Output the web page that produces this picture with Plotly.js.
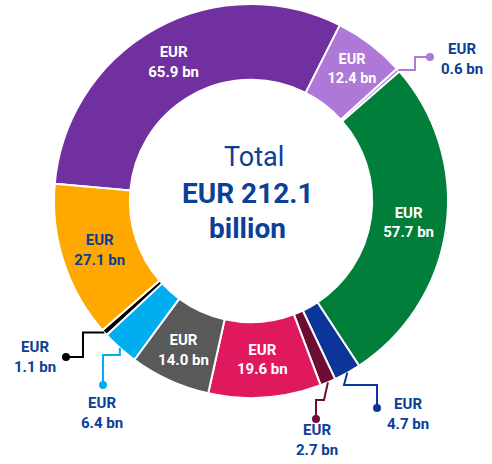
<!DOCTYPE html>
<html>
<head>
<meta charset="utf-8">
<script src="https://cdn.plot.ly/plotly-3.0.1.min.js"></script>
<style>
  html, body { margin: 0; padding: 0; background: #fff; }
  #chart { width: 492px; height: 464px; }
</style>
</head>
<body>
<div id="chart"></div>
<script>
// values in EUR bn, clockwise starting at the purple slice
var values = [65.9, 12.4, 0.6, 57.7, 4.7, 2.7, 19.6, 14.0, 6.4, 1.1, 27.1];
var colors = ['#70309f', '#ad78d6', '#ad78d6', '#017f3a', '#0c3599', '#6e0d33',
              '#e0195f', '#595959', '#00aeef', '#000000', '#ffa800'];
var insideLabel = [true, true, false, true, false, false, true, true, false, false, true];
var totalText = 'EUR 212.1';

var W = 492, H = 464;
var cx = 251, cy = 201, R = 197;
var rotation = -85;
var blue = '#0a4096';

var total = 0;
for (var i = 0; i < values.length; i++) total += values[i];

var texts = [];
var textColors = [];
for (i = 0; i < values.length; i++) {
    texts.push(insideLabel[i] ? 'EUR<br>' + values[i].toFixed(1) + ' bn' : '');
    textColors.push(colors[i] == '#ffa800' ? '#0c3d91' : '#ffffff');
}

// mid angle of a slice (degrees clockwise from 12 o'clock)
function midAngle(k) {
    var a = rotation;
    for (var j = 0; j < k; j++) a += values[j] / total * 360;
    return a + values[k] / total * 180;
}
function edgePoint(k) {
    var a = midAngle(k) * Math.PI / 180;
    return [cx + R * Math.sin(a), cy - R * Math.cos(a)];
}
function px(x) { return x / W; }
function py(y) { return 1 - y / H; }

// callouts for the thin slices: slice index, elbow points (px) after the edge point, dot, label centre
var callouts = [
    {k: 2, path: [[415, 'e'], [415, 57]], dot: [430, 57], lx: 462, ly: 59},
    {k: 4, path: [[344, 385], [377, 385]], dot: [377, 408], lx: 408, ly: 414},
    {k: 5, path: [[324, 400], [316, 400]], dot: [316, 419], lx: 317, ly: 440},
    {k: 8, path: [['e', 355], [103, 355]], dot: [103, 385], lx: 102, ly: 413},
    {k: 9, path: [[83, 'e'], [83, 357]], dot: [66, 357], lx: 35, ly: 357}
];

var shapes = [];
var annotations = [];
callouts.forEach(function (c) {
    var e = edgePoint(c.k);
    var pts = [e];
    c.path.forEach(function (p) {
        pts.push([p[0] == 'e' ? e[0] : p[0], p[1] == 'e' ? e[1] : p[1]]);
    });
    pts.push(c.dot);
    var d = '';
    pts.forEach(function (p, n) {
        d += (n == 0 ? 'M' : 'L') + px(p[0]) + ',' + py(p[1]);
    });
    shapes.push({type: 'path', xref: 'paper', yref: 'paper', path: d,
        line: {color: colors[c.k], width: 2}});
    var r = 4;
    shapes.push({type: 'circle', xref: 'paper', yref: 'paper',
        x0: px(c.dot[0] - r), x1: px(c.dot[0] + r), y0: py(c.dot[1] + r), y1: py(c.dot[1] - r),
        fillcolor: colors[c.k], line: {width: 0}});
    annotations.push({xref: 'paper', yref: 'paper', x: px(c.lx), y: py(c.ly),
        xanchor: 'center', yanchor: 'middle',
        text: '<b>EUR<br>' + values[c.k].toFixed(1) + ' bn</b>', showarrow: false,
        font: {family: 'Roboto', size: 15, color: blue}, align: 'center'});
});

annotations.push({xref: 'paper', yref: 'paper', x: px(254), y: py(157), showarrow: false,
    xanchor: 'center', yanchor: 'middle',
    text: 'Total', font: {family: 'Roboto', size: 27, color: blue}});
annotations.push({xref: 'paper', yref: 'paper', x: px(247), y: py(193), showarrow: false,
    xanchor: 'center', yanchor: 'middle',
    text: '<b>' + totalText + '</b>', font: {family: 'Roboto', size: 28, color: blue}});
annotations.push({xref: 'paper', yref: 'paper', x: px(247), y: py(228), showarrow: false,
    xanchor: 'center', yanchor: 'middle',
    text: '<b>billion</b>', font: {family: 'Roboto', size: 28, color: blue}});

var trace = {
    type: 'pie',
    values: values,
    sort: false,
    direction: 'clockwise',
    rotation: rotation,
    hole: 0.615,
    text: texts,
    textinfo: 'text',
    textposition: 'inside',
    insidetextorientation: 'horizontal',
    textfont: {family: 'Roboto', size: 15, color: textColors, weight: 'bold'},
    marker: {colors: colors, line: {color: '#ffffff', width: 2}},
    domain: {x: [px(cx - R), px(cx + R)], y: [py(cy + R), py(cy - R)]},
    showlegend: false,
    hoverinfo: 'none'
};

var layout = {
    width: W,
    height: H,
    margin: {l: 0, r: 0, t: 0, b: 0},
    paper_bgcolor: '#ffffff',
    showlegend: false,
    shapes: shapes,
    annotations: annotations
};

Plotly.newPlot('chart', [trace], layout, {displayModeBar: false, staticPlot: true});
</script>
</body>
</html>
